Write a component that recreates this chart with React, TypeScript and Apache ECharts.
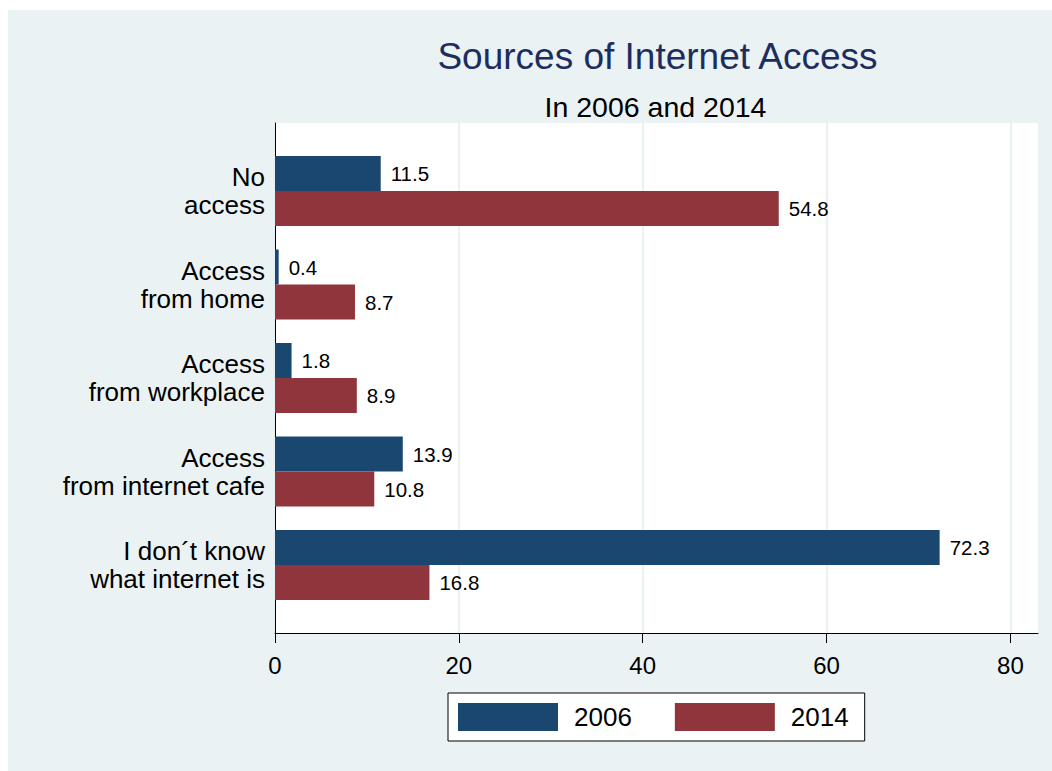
import React, { useEffect, useRef } from "react";
import * as echarts from "echarts";

const categories = [
  "No\naccess",
  "Access\nfrom home",
  "Access\nfrom workplace",
  "Access\nfrom internet cafe",
  "I don\u00b4t know\nwhat internet is",
];
const values2006 = [11.5, 0.4, 1.8, 13.9, 72.3];
const values2014 = [54.8, 8.7, 8.9, 10.8, 16.8];
const seriesNames = ["2006", "2014"];
const xTicks = [0, 20, 40, 60, 80];
const titleText = "Sources of Internet Access";
const subtitleText = "In 2006 and 2014";

const FONT = "'Liberation Sans', Arial, Helvetica, sans-serif";
const NAVY = "#1a476f";
const MAROON = "#90353b";

export default function App() {
  const ref = useRef<HTMLDivElement>(null);
  useEffect(() => {
    if (!ref.current) return;
    const chart = echarts.init(ref.current, undefined, { renderer: "svg" });
    const xMax = 83;
    const labelStyle = {
      show: true,
      position: "right" as const,
      distance: 10,
      fontSize: 20.5,
      color: "#000",
      fontFamily: FONT,
      formatter: (p: any) => Number(p.value).toFixed(1),
    };
    chart.setOption({
      animation: false,
      backgroundColor: "#eaf2f3",
      textStyle: { fontFamily: FONT },
      title: [
        {
          text: titleText,
          left: 649.5,
          top: 28,
          textAlign: "center",
          padding: 0,
          textStyle: { fontSize: 37, fontWeight: "normal", color: "#1e2d5f", fontFamily: FONT },
        },
        {
          text: subtitleText,
          left: 647.5,
          top: 82,
          textAlign: "center",
          padding: 0,
          textStyle: { fontSize: 28.5, fontWeight: "normal", color: "#000", fontFamily: FONT },
        },
      ],
      legend: {
        data: seriesNames,
        left: 440,
        top: 683,
        orient: "horizontal",
        itemWidth: 100,
        itemHeight: 28,
        itemGap: 43,
        padding: [10, 16, 10, 10],
        borderColor: "#000",
        borderWidth: 1,
        backgroundColor: "#fff",
        borderRadius: 0,
        icon: "rect",
        textStyle: { fontSize: 26, color: "#000", fontFamily: FONT, padding: [0, 0, 0, 11] },
      },
      grid: [
        { left: 267, top: 113, width: 763, height: 510, show: true, backgroundColor: "#fff", borderWidth: 0 },
        { left: 267, top: 134.25, width: 763, height: 467.5 },
      ],
      xAxis: [
        {
          gridIndex: 0,
          type: "value",
          min: 0,
          max: xMax,
          interval: 20,
          axisLine: { show: true, onZero: false, lineStyle: { color: "#000", width: 1 } },
          axisTick: { show: true, length: 10, customValues: xTicks, lineStyle: { color: "#000", width: 1 } },
          axisLabel: {
            fontSize: 24,
            color: "#000",
            fontFamily: FONT,
            margin: 20,
            customValues: xTicks,
            formatter: (v: number) => (xTicks.includes(v) ? String(v) : ""),
          },
          splitLine: { show: true, lineStyle: { color: "#e3edef", width: 1.5 } },
        },
        { gridIndex: 1, type: "value", min: 0, max: xMax, show: false },
      ],
      yAxis: [
        {
          gridIndex: 0,
          type: "value",
          min: 0,
          max: 1,
          axisLine: { show: true, lineStyle: { color: "#000", width: 1 } },
          axisTick: { show: false },
          axisLabel: { show: false },
          splitLine: { show: false },
        },
        {
          gridIndex: 1,
          type: "category",
          data: categories,
          inverse: true,
          axisLine: { show: false },
          axisTick: { show: false },
          splitLine: { show: false },
          axisLabel: {
            fontSize: 26,
            lineHeight: 28,
            color: "#000",
            fontFamily: FONT,
            margin: 10,
            align: "right",
          },
        },
      ],
      series: [
        {
          name: seriesNames[0],
          type: "bar",
          xAxisIndex: 1,
          yAxisIndex: 1,
          data: values2006,
          barWidth: 35,
          barGap: "0%",
          itemStyle: { color: NAVY },
          label: labelStyle,
        },
        {
          name: seriesNames[1],
          type: "bar",
          xAxisIndex: 1,
          yAxisIndex: 1,
          data: values2014,
          barWidth: 35,
          barGap: "0%",
          itemStyle: { color: MAROON },
          label: labelStyle,
        },
      ],
    });
    return () => chart.dispose();
  }, []);
  return (
    <div
      ref={ref}
      style={{ position: "fixed", left: 8, top: 10, width: 1044, height: 761 }}
    />
  );
}
